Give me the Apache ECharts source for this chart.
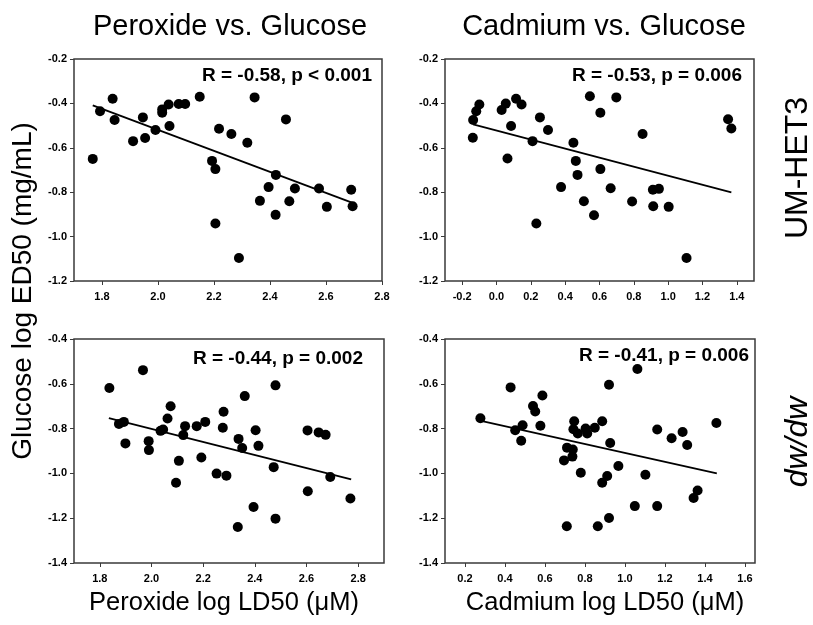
<!DOCTYPE html>
<html><head><meta charset="utf-8">
<script src="https://cdn.jsdelivr.net/npm/echarts@6/dist/echarts.min.js"></script>
<style>html,body{margin:0;padding:0;background:#fff}#c{width:813px;height:625px}</style>
</head><body><div id="c"></div>
<script>
// ---- Data ----
// UM-HET3: Peroxide vs Glucose
const hetPeroxideX = [1.767,1.793,1.838,1.845,1.911,1.946,1.954,1.991,2.015,2.015,2.038,2.041,2.074,2.097,2.149,2.193,2.205,2.218,2.205,2.262,2.289,2.319,2.345,2.364,2.395,2.421,2.420,2.457,2.469,2.489,2.575,2.603,2.690,2.695];
const hetPeroxideGlucoseY = [-0.65,-0.435,-0.379,-0.475,-0.57,-0.463,-0.556,-0.52,-0.427,-0.442,-0.405,-0.502,-0.403,-0.403,-0.37,-0.659,-0.696,-0.514,-0.941,-0.538,-1.096,-0.577,-0.373,-0.839,-0.777,-0.722,-0.902,-0.472,-0.841,-0.783,-0.783,-0.866,-0.789,-0.863];
const hetPeroxideFitX = [1.767, 2.695];
const hetPeroxideFitY = [-0.409, -0.848];
// UM-HET3: Cadmium vs Glucose
const hetCadmiumX = [-0.136,-0.138,-0.118,-0.100,0.030,0.054,0.064,0.085,0.114,0.146,0.210,0.232,0.253,0.300,0.376,0.448,0.462,0.472,0.509,0.544,0.568,0.605,0.605,0.665,0.698,0.790,0.851,0.911,0.913,0.946,1.003,1.107,1.349,1.368];
const hetCadmiumGlucoseY = [-0.475,-0.555,-0.435,-0.405,-0.430,-0.401,-0.648,-0.502,-0.379,-0.405,-0.570,-0.941,-0.463,-0.520,-0.777,-0.577,-0.659,-0.722,-0.841,-0.368,-0.904,-0.442,-0.696,-0.782,-0.373,-0.842,-0.538,-0.789,-0.863,-0.785,-0.866,-1.096,-0.471,-0.513];
const hetCadmiumFitX = [-0.136, 1.368];
const hetCadmiumFitY = [-0.495, -0.801];
// dw/dw: Peroxide vs Glucose
const dwPeroxideX = [1.837,1.967,1.874,1.893,1.899,1.989,1.990,2.035,2.045,2.062,2.074,2.095,2.106,2.123,2.130,2.175,2.193,2.208,2.252,2.276,2.279,2.290,2.334,2.337,2.351,2.361,2.395,2.403,2.414,2.473,2.480,2.480,2.604,2.605,2.647,2.674,2.692,2.770];
const dwPeroxideGlucoseY = [-0.619,-0.539,-0.779,-0.770,-0.866,-0.856,-0.896,-0.810,-0.804,-0.755,-0.700,-1.042,-0.944,-0.829,-0.789,-0.789,-0.929,-0.770,-1.001,-0.796,-0.725,-1.010,-1.239,-0.846,-0.887,-0.655,-1.150,-0.807,-0.877,-0.972,-0.607,-1.202,-0.808,-1.080,-0.817,-0.828,-1.016,-1.112];
const dwPeroxideFitX = [1.835, 2.773];
const dwPeroxideFitY = [-0.753, -1.027];
// dw/dw: Cadmium vs Glucose
const dwCadmiumX = [0.277,0.428,0.451,0.481,0.488,0.540,0.551,0.577,0.587,0.695,0.710,0.709,0.739,0.737,0.746,0.742,0.764,0.779,0.803,0.811,0.849,0.864,0.886,0.886,0.911,0.920,0.926,0.920,0.967,1.062,1.049,1.102,1.161,1.161,1.233,1.288,1.311,1.343,1.363,1.457];
const dwCadmiumGlucoseY = [-0.754,-0.616,-0.807,-0.854,-0.785,-0.699,-0.724,-0.787,-0.652,-0.942,-0.885,-1.236,-0.893,-0.925,-0.767,-0.803,-0.822,-0.997,-0.800,-0.822,-0.796,-1.236,-0.767,-1.042,-1.012,-0.604,-0.864,-1.199,-0.967,-0.534,-1.146,-1.006,-0.804,-1.146,-0.843,-0.815,-0.873,-1.110,-1.076,-0.775];
const dwCadmiumFitX = [0.28, 1.459];
const dwCadmiumFitY = [-0.766, -1.0];

// Axis ranges and tick labels
const xRanges = [[1.7, 2.8], [-0.3, 1.5], [1.7, 2.9], [0.1, 1.65]];
const yRanges = [[-1.2, -0.2], [-1.2, -0.2], [-1.4, -0.4], [-1.4, -0.4]];
const xTicksPeroxideTop = [1.8, 2.0, 2.2, 2.4, 2.6, 2.8];
const xTicksCadmiumTop = [-0.2, 0.0, 0.2, 0.4, 0.6, 0.8, 1.0, 1.2, 1.4];
const xTicksPeroxideBottom = [1.8, 2.0, 2.2, 2.4, 2.6, 2.8];
const xTicksCadmiumBottom = [0.2, 0.4, 0.6, 0.8, 1.0, 1.2, 1.4, 1.6];
const yTicksTop = [-1.2, -1.0, -0.8, -0.6, -0.4, -0.2];
const yTicksBottom = [-1.4, -1.2, -1.0, -0.8, -0.6, -0.4];

const annotations = ['R = -0.58, p < 0.001', 'R = -0.53, p = 0.006', 'R = -0.44, p = 0.002', 'R = -0.41, p = 0.006'];
const columnTitles = ['Peroxide vs. Glucose', 'Cadmium vs. Glucose'];
const xTitles = ['Peroxide log LD50 (\u03bcM)', 'Cadmium log LD50 (\u03bcM)'];
const yTitle = 'Glucose log ED50 (mg/mL)';
const rowLabels = ['UM-HET3', 'dw/dw'];

// ---- Build chart ----
const FONT = '"Liberation Sans", Arial, Helvetica, sans-serif';
const frame = '#3a3a3a';
const panels = [
  {x: hetPeroxideX, y: hetPeroxideGlucoseY, fx: hetPeroxideFitX, fy: hetPeroxideFitY, xt: xTicksPeroxideTop, yt: yTicksTop},
  {x: hetCadmiumX, y: hetCadmiumGlucoseY, fx: hetCadmiumFitX, fy: hetCadmiumFitY, xt: xTicksCadmiumTop, yt: yTicksTop},
  {x: dwPeroxideX, y: dwPeroxideGlucoseY, fx: dwPeroxideFitX, fy: dwPeroxideFitY, xt: xTicksPeroxideBottom, yt: yTicksBottom},
  {x: dwCadmiumX, y: dwCadmiumGlucoseY, fx: dwCadmiumFitX, fy: dwCadmiumFitY, xt: xTicksCadmiumBottom, yt: yTicksBottom}
];
const gridBoxes = [
  {left: 74, top: 59, width: 308, height: 222},
  {left: 445, top: 59, width: 309, height: 222},
  {left: 74, top: 339, width: 310, height: 224},
  {left: 445, top: 339, width: 310, height: 224}
];
const fmt = v => (Math.abs(v) < 1e-9 ? 0 : v).toFixed(1);
const labelStyle = {fontFamily: FONT, fontWeight: 'bold', fontSize: 11, color: '#000'};

const grid = gridBoxes.map(b => Object.assign({show: true, borderColor: frame, borderWidth: 1.5, backgroundColor: '#fff'}, b));
const xAxis = panels.map((p, i) => ({
  type: 'value', gridIndex: i, min: xRanges[i][0], max: xRanges[i][1], position: 'bottom',
  axisLine: {show: false, onZero: false},
  axisTick: {show: true, customValues: p.xt, length: 4, lineStyle: {color: frame, width: 1}},
  axisLabel: Object.assign({customValues: p.xt, formatter: fmt, margin: 10}, labelStyle),
  splitLine: {show: false}
}));
const yAxis = panels.map((p, i) => ({
  type: 'value', gridIndex: i, min: yRanges[i][0], max: yRanges[i][1], position: 'left',
  axisLine: {show: false, onZero: false},
  axisTick: {show: true, customValues: p.yt, length: 4, lineStyle: {color: frame, width: 1}},
  axisLabel: Object.assign({customValues: p.yt, formatter: fmt, margin: 7}, labelStyle),
  splitLine: {show: false}
}));
const series = [];
panels.forEach((p, i) => {
  series.push({
    type: 'scatter', xAxisIndex: i, yAxisIndex: i, symbolSize: 10,
    itemStyle: {color: '#000', opacity: 1}, data: p.x.map((v, k) => [v, p.y[k]]), z: 3
  });
  series.push({
    type: 'line', xAxisIndex: i, yAxisIndex: i, symbol: 'none',
    lineStyle: {color: '#000', width: 1.8}, data: p.fx.map((v, k) => [v, p.fy[k]]), z: 2
  });
});

function txt(text, x, y, opts) {
  return Object.assign({
    type: 'text', x: x, y: y,
    style: Object.assign({text: text, fill: '#000', textAlign: 'center', textVerticalAlign: 'middle', align: 'center', verticalAlign: 'middle'}, opts.style || {})
  }, opts.el || {});
}
const annPos = [[372, 76], [742, 76], [363, 359], [749, 356]];
const graphic = [];
annotations.forEach((a, i) => graphic.push(txt(a, annPos[i][0], annPos[i][1], {style: {font: 'bold 19px ' + FONT, textAlign: 'right', align: 'right'}})));
graphic.push(txt(columnTitles[0], 230, 27, {style: {font: '29px ' + FONT}}));
graphic.push(txt(columnTitles[1], 604, 27, {style: {font: '29px ' + FONT}}));
graphic.push(txt(xTitles[0], 224, 603, {style: {font: '25.5px ' + FONT}}));
graphic.push(txt(xTitles[1], 605, 603, {style: {font: '25.5px ' + FONT}}));
graphic.push(txt(yTitle, 23, 291, {style: {font: '28px ' + FONT}, el: {rotation: Math.PI / 2}}));
graphic.push(txt(rowLabels[0], 798, 168, {style: {font: '32px ' + FONT}, el: {rotation: Math.PI / 2}}));
graphic.push(txt(rowLabels[1], 798, 442, {style: {font: 'italic 32px ' + FONT}, el: {rotation: Math.PI / 2}}));

const chart = echarts.init(document.getElementById('c'), null, {renderer: 'canvas'});
chart.setOption({animation: false, backgroundColor: '#fff', grid, xAxis, yAxis, series, graphic});
</script>
</body></html>
